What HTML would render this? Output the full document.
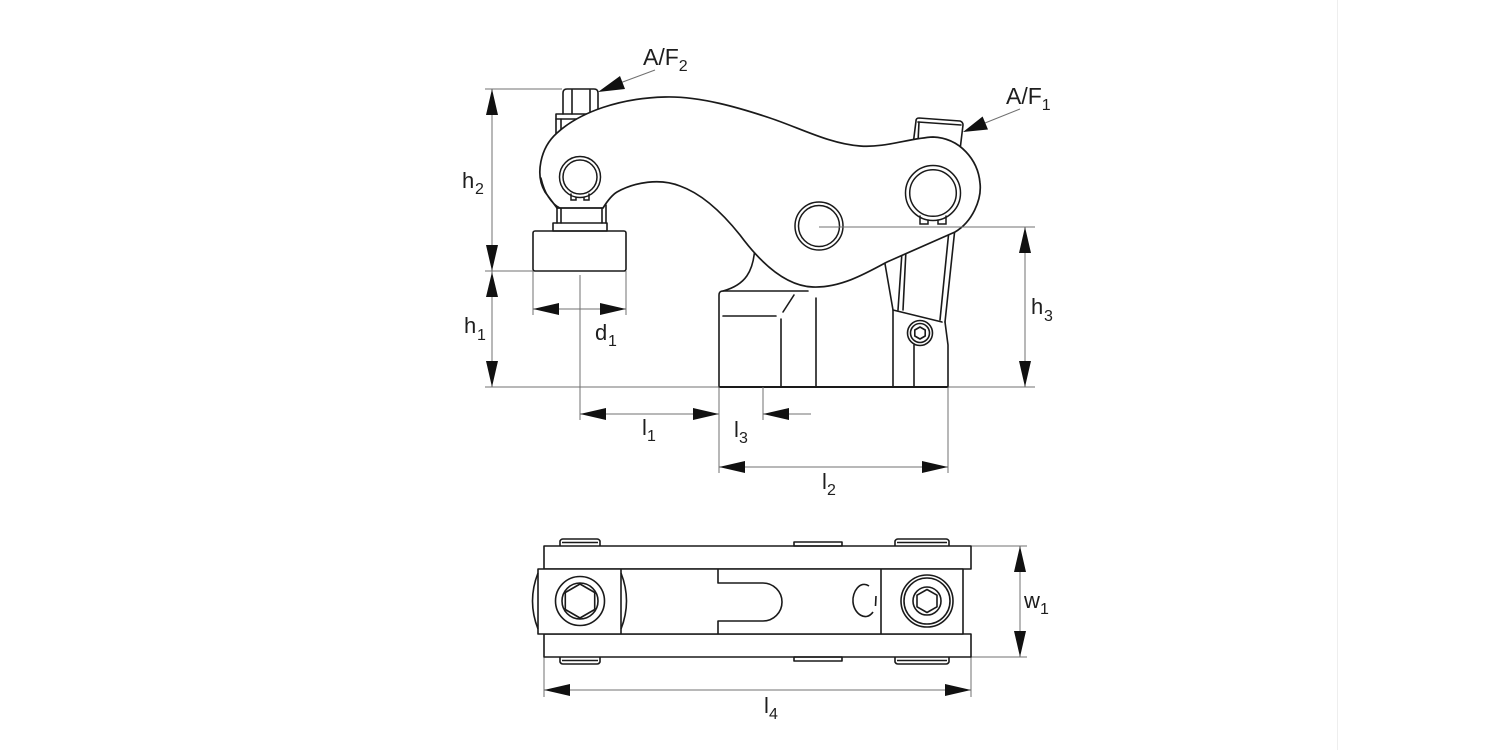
<!DOCTYPE html>
<html><head><meta charset="utf-8"><style>
html,body{margin:0;padding:0;background:#fff;}
svg{display:block;}
text{font-family:"Liberation Sans",Arial,sans-serif;fill:#1e1e1e;}
</style></head><body>
<svg width="1500" height="750" viewBox="0 0 1500 750" xmlns="http://www.w3.org/2000/svg">
<rect width="1500" height="750" fill="#fff"/>
<line x1="1337.5" y1="0" x2="1337.5" y2="750" stroke="#eeeeee" stroke-width="1"/>

<g fill="none" stroke="#1a1a1a" stroke-width="1.6" stroke-linejoin="round" stroke-linecap="round">
  <path d="M563,114 L563,93 Q563,89 567,89 L594,89 Q598,89 598,93 L598,112"/>
  <line x1="572" y1="90" x2="572" y2="114"/>
  <line x1="590" y1="90" x2="590" y2="112"/>
  <path d="M556,140 L556,114 L592,114"/>
  <line x1="556" y1="119" x2="585" y2="119"/>
  <line x1="561" y1="119" x2="561" y2="136"/>
  <path d="M913,145 L916,121 Q916,118 919,118 L960,121 Q963,122 963,125 L960,150"/>
  <line x1="918" y1="122" x2="961" y2="125"/>
  <line x1="919" y1="122" x2="918" y2="142"/>
  <line x1="557" y1="205" x2="557" y2="223"/>
  <line x1="561" y1="205" x2="561" y2="223"/>
  <line x1="602" y1="205" x2="602" y2="223"/>
  <line x1="606" y1="205" x2="606" y2="223"/>
  <rect x="553" y="223" width="54" height="8"/>
  <rect x="533" y="231" width="93" height="40" rx="2"/>
  <path d="M719,387 L719,295 Q719,291 723,291 L808,291"/>
  <path d="M723,291 C745,285 754,272 755,245"/>
  <line x1="719" y1="387" x2="948" y2="387" stroke-width="2"/>
  <line x1="723" y1="316" x2="776" y2="316"/>
  <line x1="783" y1="312" x2="794" y2="295"/>
  <line x1="781" y1="319" x2="781" y2="387"/>
  <line x1="816" y1="298" x2="816" y2="387"/>
  <path d="M884,258 L893,310 L893,387"/>
  <line x1="902" y1="252" x2="898" y2="310"/>
  <line x1="906" y1="250" x2="903" y2="310"/>
  <line x1="893" y1="310" x2="942" y2="322"/>
  <line x1="949" y1="230" x2="940" y2="320"/>
  <line x1="955" y1="228" x2="945" y2="322"/>
  <path d="M945,322 L948,345 L948,387"/>
  <circle cx="920" cy="333" r="12.5"/>
  <circle cx="920" cy="333" r="9.5"/>
  <polygon points="920,327 925.2,330 925.2,336 920,339 914.8,336 914.8,330"/>
  <line x1="914" y1="345" x2="914" y2="387"/>
</g>

<path fill="#fff" stroke="#1a1a1a" stroke-width="1.7" stroke-linejoin="round"
 d="M557,208 L603,208 C608,200 612,195 617,192 C635,182 660,178 680,186 C700,193 720,210 740,235 C760,262 785,286 813,287 C840,288 865,274 887,262 L955,232 C972,222 982,200 980,183 C978,160 960,138 933,137 C910,138 885,148 860,146 C830,144 800,128 770,118 C740,108 700,96 665,97 C620,98 580,112 557,133 C540,148 535,175 545,192 Z"/>
<g fill="none" stroke="#1a1a1a" stroke-width="1.5" stroke-linecap="round">
  <path d="M541,178 C545,195 552,204 560,208"/>
  <circle cx="580" cy="177" r="20.5"/>
  <circle cx="580" cy="177" r="17"/>
  <path d="M571,194 L571,200 L576,200 L576,197"/>
  <path d="M584,197 L584,200 L589,200 L589,194"/>
  <circle cx="819" cy="226" r="24"/>
  <circle cx="819" cy="226" r="20.5"/>
  <circle cx="933" cy="193" r="27.5"/>
  <circle cx="933" cy="193" r="23.3"/>
  <path d="M920,216 L920,224 L928,224 L928,220"/>
  <path d="M938,220 L938,224 L946,224 L946,216"/>
</g>

<g stroke="#707070" stroke-width="1" fill="none">
  <line x1="492" y1="89" x2="492" y2="387"/>
  <line x1="485" y1="89" x2="562" y2="89"/>
  <line x1="485" y1="271" x2="533" y2="271"/>
  <line x1="485" y1="387" x2="719" y2="387"/>
  <line x1="948" y1="387" x2="1035" y2="387"/>
  <line x1="533" y1="271" x2="533" y2="315"/>
  <line x1="626" y1="271" x2="626" y2="315"/>
  <line x1="533" y1="309" x2="626" y2="309"/>
  <line x1="580" y1="275" x2="580" y2="420"/>
  <line x1="580" y1="414" x2="719" y2="414"/>
  <line x1="763" y1="387" x2="763" y2="420"/>
  <line x1="763" y1="414" x2="811" y2="414"/>
  <line x1="719" y1="387" x2="719" y2="473"/>
  <line x1="948" y1="387" x2="948" y2="473"/>
  <line x1="719" y1="467" x2="948" y2="467"/>
  <line x1="1025" y1="227" x2="1025" y2="387"/>
  <line x1="819" y1="227" x2="1035" y2="227"/>
  <line x1="971" y1="546" x2="1027" y2="546"/>
  <line x1="971" y1="657" x2="1027" y2="657"/>
  <line x1="1020" y1="546" x2="1020" y2="657"/>
  <line x1="544" y1="657" x2="544" y2="697"/>
  <line x1="971" y1="657" x2="971" y2="697"/>
  <line x1="544" y1="690" x2="971" y2="690"/>
  <line x1="620" y1="83" x2="655" y2="70"/>
  <line x1="985" y1="123" x2="1020" y2="109"/>
</g>
<g fill="#111" stroke="none">
  <polygon points="492,89 486,115 498,115"/>
  <polygon points="492,271 486,245 498,245"/>
  <polygon points="492,272 486,297 498,297"/>
  <polygon points="492,387 486,361 498,361"/>
  <polygon points="1025,227 1019,253 1031,253"/>
  <polygon points="1025,387 1019,361 1031,361"/>
  <polygon points="1020,546 1014,572 1026,572"/>
  <polygon points="1020,657 1014,631 1026,631"/>
  <polygon points="533,309 559,303 559,315"/>
  <polygon points="626,309 600,303 600,315"/>
  <polygon points="580,414 606,408 606,420"/>
  <polygon points="719,414 693,408 693,420"/>
  <polygon points="763,414 789,408 789,420"/>
  <polygon points="719,467 745,461 745,473"/>
  <polygon points="948,467 922,461 922,473"/>
  <polygon points="544,690 570,684 570,696"/>
  <polygon points="971,690 945,684 945,696"/>
  <polygon points="598,92 625,89 620,76"/>
  <polygon points="963,132 988,129.5 982.6,116.5"/>
</g>

<g fill="none" stroke="#1a1a1a" stroke-width="1.6" stroke-linejoin="round">
  <path d="M560,546 L560,541 Q561,539 563,539 L597,539 Q599,539 600,541 L600,546"/>
  <line x1="562" y1="542.5" x2="598" y2="542.5"/>
  <rect x="794" y="542" width="48" height="4"/>
  <path d="M895,546 L895,541 Q896,539 898,539 L946,539 Q948,539 949,541 L949,546"/>
  <line x1="897" y1="542.5" x2="947" y2="542.5"/>
  <path d="M560,657 L560,662 Q561,664 563,664 L597,664 Q599,664 600,662 L600,657"/>
  <line x1="562" y1="660.5" x2="598" y2="660.5"/>
  <rect x="794" y="657" width="48" height="4"/>
  <path d="M895,657 L895,662 Q896,664 898,664 L946,664 Q948,664 949,662 L949,657"/>
  <line x1="897" y1="660.5" x2="947" y2="660.5"/>
  <rect x="544" y="546" width="427" height="23"/>
  <rect x="544" y="634" width="427" height="23"/>
  <rect x="538" y="569" width="425" height="65" fill="#fff"/>
  <line x1="621" y1="569" x2="621" y2="634"/>
  <line x1="881" y1="569" x2="881" y2="634"/>
  <path d="M538,573 Q527,601 538,629"/>
  <path d="M621,573 Q632,601 621,629"/>
  <circle cx="580" cy="601" r="24.5"/>
  <circle cx="580" cy="601" r="18"/>
  <polygon points="580,584 594.7,592.5 594.7,609.5 580,618 565.3,609.5 565.3,592.5"/>
  <circle cx="927" cy="601" r="26"/>
  <circle cx="927" cy="601" r="23"/>
  <circle cx="927" cy="601" r="14"/>
  <polygon points="927,589.5 937,595.2 937,606.8 927,612.5 917,606.8 917,595.2"/>
  <path d="M718,569 L718,583 L763,583 A19,19 0 0 1 763,621 L718,621 L718,634"/>
  <path d="M869,586 C860,580 852,592 853,602 C854,614 866,622 873,612"/>
  <line x1="876" y1="596" x2="875.5" y2="606"/>
</g>

<text x="643" y="65" font-size="23">A/F<tspan font-size="16" dy="6">2</tspan></text>
<text x="1006" y="104" font-size="23">A/F<tspan font-size="16" dy="6">1</tspan></text>
<g font-size="22">
  <text x="462" y="188">h</text>
  <text x="464" y="333">h</text>
  <text x="595" y="340">d</text>
  <text x="642" y="435">l</text>
  <text x="734" y="437">l</text>
  <text x="822" y="489">l</text>
  <text x="1031" y="314">h</text>
  <text x="1024" y="608">w</text>
  <text x="764" y="713">l</text>
</g>
<g font-size="16">
  <text x="475" y="194">2</text>
  <text x="477" y="340">1</text>
  <text x="608" y="346">1</text>
  <text x="647" y="441">1</text>
  <text x="739" y="443">3</text>
  <text x="827" y="495">2</text>
  <text x="1044" y="321">3</text>
  <text x="1040" y="614">1</text>
  <text x="769" y="719">4</text>
</g>
</svg>
</body></html>
